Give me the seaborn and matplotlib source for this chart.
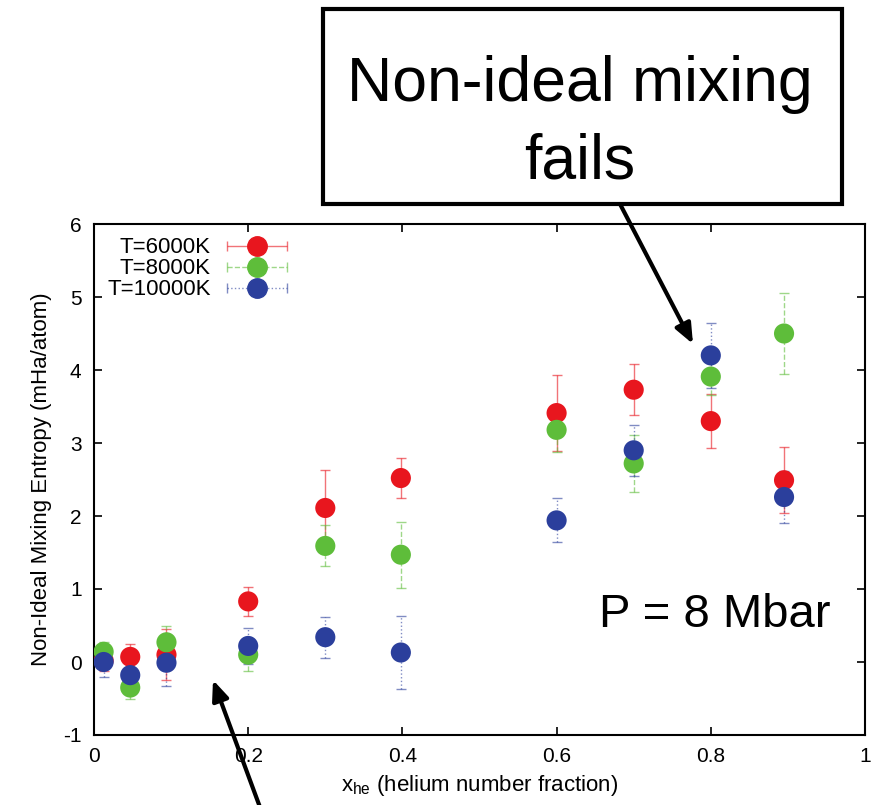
import numpy as np
import pandas as pd
import matplotlib
matplotlib.use("Agg")
import matplotlib.pyplot as plt
from matplotlib.patches import Rectangle
from matplotlib.container import ErrorbarContainer
from matplotlib.legend_handler import HandlerErrorbar
import seaborn as sns

# ---- data ----
x_he = [0.0125, 0.047, 0.094, 0.2, 0.3, 0.398, 0.6, 0.7, 0.8, 0.895]
s_6000 = [0.02, 0.07, 0.10, 0.83, 2.11, 2.52, 3.41, 3.73, 3.30, 2.49]
e_6000 = [0.15, 0.18, 0.35, 0.20, 0.52, 0.28, 0.52, 0.35, 0.37, 0.45]
s_8000 = [0.14, -0.35, 0.27, 0.10, 1.59, 1.47, 3.18, 2.72, 3.91, 4.50]
e_8000 = [0.13, 0.15, 0.23, 0.22, 0.28, 0.45, 0.30, 0.39, 0.25, 0.55]
s_10000 = [0.00, -0.18, -0.01, 0.22, 0.34, 0.13, 1.94, 2.90, 4.20, 2.26]
e_10000 = [0.20, 0.10, 0.32, 0.25, 0.28, 0.50, 0.30, 0.35, 0.45, 0.36]
labels = ["T=6000K", "T=8000K", "T=10000K"]
colors = ["#e8161e", "#5ebd3a", "#2b3f9c"]
ebar_styles = ["-", "--", ":"]

df = pd.concat([
    pd.DataFrame({"x": x_he, "S": s, "err": e, "T": lab})
    for s, e, lab in zip([s_6000, s_8000, s_10000], [e_6000, e_8000, e_10000], labels)
], ignore_index=True)

sns.set_style("ticks")
plt.rcParams["font.family"] = ["Liberation Sans", "DejaVu Sans"]
plt.rcParams["mathtext.fontset"] = "custom"
plt.rcParams["mathtext.rm"] = "Liberation Sans"
plt.rcParams["axes.unicode_minus"] = False
plt.rcParams["text.color"] = "black"
plt.rcParams["axes.labelcolor"] = "black"
plt.rcParams["xtick.color"] = "black"
plt.rcParams["ytick.color"] = "black"

fig = plt.figure(figsize=(8.71, 8.05), dpi=100)
ax = fig.add_axes([94 / 871, 1 - 735 / 805, (865 - 94) / 871, (735 - 224) / 805])

handles = []
for lab, c, ls in zip(labels, colors, ebar_styles):
    sub = df[df["T"] == lab]
    eb = ax.errorbar(sub["x"], sub["S"], yerr=sub["err"], fmt="none", ecolor=c,
                     elinewidth=1.0, capsize=3.5, capthick=1.0, alpha=0.6, zorder=2)
    eb[2][0].set_linestyle(ls)
    # legend proxy, placed outside the visible range
    h = ax.errorbar([-10], [-10], xerr=[1], fmt="o", color=c, ms=14,
                    mec=c, ecolor=c, elinewidth=1.0, capsize=3.5, capthick=1.0)
    h[2][0].set_linestyle(ls)
    h[2][0].set_alpha(0.6)
    for cap in h[1]:
        cap.set_alpha(0.6)
    handles.append(h)

sns.scatterplot(data=df, x="x", y="S", hue="T", palette=colors, hue_order=labels,
                s=210, linewidth=0, legend=False, ax=ax, zorder=3)

leg = ax.legend(handles, labels, loc="upper left", markerfirst=False, frameon=False,
                fontsize=16, handlelength=2.8, labelspacing=0.0, handletextpad=0.68,
                borderaxespad=0.2, bbox_to_anchor=(0.0, 1.0),
                handler_map={ErrorbarContainer: HandlerErrorbar(xerr_size=1.35)})

ax.set_xlim(0, 1)
ax.set_ylim(-1, 6)
ax.set_xticks(np.arange(0, 1.01, 0.2))
ax.set_xticklabels(["0", "0.2", "0.4", "0.6", "0.8", "1"])
ax.set_yticks(range(-1, 7))
ax.tick_params(direction="in", top=True, right=True, length=6, width=1.2,
               labelsize=15, colors="black", pad=9)
for sp in ax.spines.values():
    sp.set_visible(True)
    sp.set_color("black")
    sp.set_linewidth(1.5)

ax.set_xlabel(r"x$_{\rm he}$ (helium number fraction)", fontsize=16, labelpad=5)
ax.set_ylabel("Non-Ideal Mixing Entropy (mHa/atom)", fontsize=16, labelpad=8)

ax.text(0.655, 0.64, "P = 8 Mbar", fontsize=34, va="center", ha="left")

# annotation box
fig.patches.append(Rectangle((323 / 871, 1 - 204 / 805), (842 - 323) / 871, (204 - 9) / 805,
                             transform=fig.transFigure, fill=False, edgecolor="black",
                             linewidth=3, zorder=5))
fig.text(580 / 871, 1 - 101 / 805, "Non-ideal mixing", fontsize=45,
         ha="center", va="baseline")
fig.text(580 / 871, 1 - 178 / 805, "fails", fontsize=45,
         ha="center", va="baseline")

ax.annotate("", xy=(693 / 871, 1 - 344 / 805), xytext=(620 / 871, 1 - 204 / 805),
            xycoords="figure fraction", textcoords="figure fraction",
            arrowprops=dict(arrowstyle="-|>,head_length=1.2,head_width=0.5", lw=3, color="black",
                            shrinkA=0, shrinkB=0),
            annotation_clip=False)
ax.annotate("", xy=(213 / 871, 1 - 680 / 805), xytext=(261 / 871, 1 - 810 / 805),
            xycoords="figure fraction", textcoords="figure fraction",
            arrowprops=dict(arrowstyle="-|>,head_length=1.2,head_width=0.5", lw=3, color="black",
                            shrinkA=0, shrinkB=0),
            annotation_clip=False)

fig.savefig("out.png", dpi=100)
